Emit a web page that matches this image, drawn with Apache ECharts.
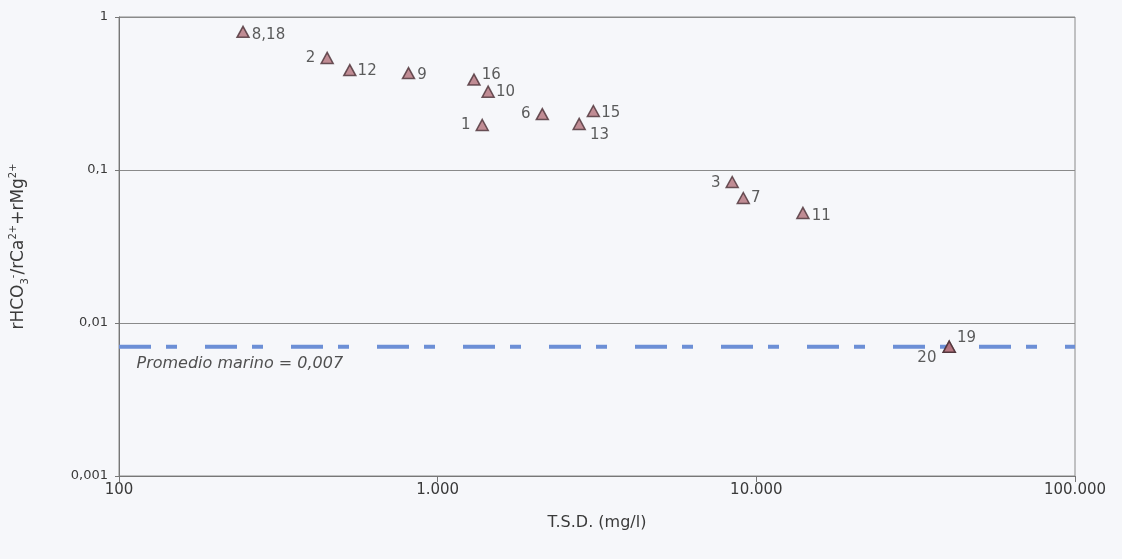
<!DOCTYPE html>
<html>
<head>
<meta charset="utf-8">
<script src="https://cdn.jsdelivr.net/npm/echarts@6/dist/echarts.min.js"></script>
<style>
  html, body { margin: 0; padding: 0; background: #f6f7fa; }
  #chart { width: 1122px; height: 559px; }
</style>
</head>
<body>
<div id="chart"></div>
<script>
// Sample identifiers (points sharing a position are labelled together)
const sampleLabels = ['8,18', '2', '12', '9', '16', '10', '1', '6', '15', '13', '3', '7', '11', '19', '20'];
// Total dissolved solids, mg/l
const tsdValues = [245, 450, 530, 810, 1300, 1440, 1380, 2130, 3080, 2780, 8400, 9100, 14000, 40300, 40300];
// rHCO3- / (rCa2+ + rMg2+)
const ratioValues = [0.80, 0.54, 0.45, 0.43, 0.39, 0.325, 0.197, 0.232, 0.243, 0.200, 0.0835, 0.0656, 0.0524, 0.007, 0.007];
// Mean seawater ratio
const seawaterRatio = 0.007;
const xTicks = [100, 1000, 10000, 100000];
const yTicks = [0.001, 0.01, 0.1, 1];

// Where each sample label sits relative to its marker
const labelPlacement = {
  '8,18': { position: 'right', offset: [-3, 3] },
  '2':    { position: 'left',  offset: [0, 0] },
  '12':   { position: 'right', offset: [-4, 1] },
  '9':    { position: 'right', offset: [-3, 2] },
  '16':   { position: 'right', offset: [-4, -4] },
  '10':   { position: 'right', offset: [-4, 0] },
  '1':    { position: 'left',  offset: [0, 0] },
  '6':    { position: 'left',  offset: [0, 0] },
  '15':   { position: 'right', offset: [-4, 2] },
  '13':   { position: 'right', offset: [-1, 11] },
  '3':    { position: 'left',  offset: [0, 1] },
  '7':    { position: 'right', offset: [-4, 0] },
  '11':   { position: 'right', offset: [-3, 3] },
  '19':   { position: 'right', offset: [-4, -9] },
  '20':   { position: 'left',  offset: [-1, 11] }
};

const points = tsdValues.map((x, i) => {
  const p = labelPlacement[sampleLabels[i]];
  return {
    value: [x, ratioValues[i]],
    name: sampleLabels[i],
    label: { position: p.position, offset: p.offset }
  };
});

// Horizontal reference line across the whole TSD range
const seawaterLine = [
  { value: [xTicks[0], seawaterRatio], label: { show: true } },
  { value: [xTicks[xTicks.length - 1], seawaterRatio], label: { show: false } }
];

const fmtThousands = v => String(Math.round(v)).replace(/\B(?=(\d{3})+(?!\d))/g, '.');
const fmtDecimal = v => String(Number(Number(v).toPrecision(3))).replace('.', ',');

const wideFont = 'DejaVu Sans, Liberation Sans, sans-serif';
const chart = echarts.init(document.getElementById('chart'), null, { renderer: 'canvas' });
chart.setOption({
  backgroundColor: '#f6f7fa',
  animation: false,
  textStyle: { fontFamily: wideFont },
  grid: {
    left: 119, right: 47, top: 17, bottom: 83,
    show: true, borderColor: '#8a8a8a', borderWidth: 1, backgroundColor: 'transparent'
  },
  xAxis: {
    type: 'log', logBase: 10, min: xTicks[0], max: xTicks[xTicks.length - 1],
    name: 'T.S.D. (mg/l)', nameLocation: 'middle', nameGap: 39,
    nameTextStyle: { fontSize: 16, color: '#3a3a3a', fontFamily: wideFont },
    axisLine: { lineStyle: { color: '#777', width: 1 } },
    axisTick: { show: true, length: 6, lineStyle: { color: '#777' } },
    axisLabel: { fontSize: 15, color: '#3a3a3a', margin: 7, fontFamily: wideFont, formatter: fmtThousands },
    splitLine: { show: false },
    minorTick: { show: false }
  },
  yAxis: {
    type: 'log', logBase: 10, min: yTicks[0], max: yTicks[yTicks.length - 1],
    name: '{b|rHCO}{sub|3}{sup|-}{b|/rCa}{sup|2+}{b|+rMg}{sup|2+}',
    nameLocation: 'middle', nameGap: 89, nameRotate: 90,
    nameTextStyle: {
      color: '#3a3a3a',
      rich: {
        b: { fontSize: 17, color: '#3a3a3a', lineHeight: 22, fontFamily: wideFont, verticalAlign: 'middle' },
        sup: { fontSize: 10, color: '#3a3a3a', lineHeight: 22, fontFamily: wideFont, verticalAlign: 'top' },
        sub: { fontSize: 10, color: '#3a3a3a', lineHeight: 22, fontFamily: wideFont, verticalAlign: 'bottom' }
      }
    },
    axisLine: { show: true, lineStyle: { color: '#777', width: 1 } },
    axisTick: { show: true, length: 4, lineStyle: { color: '#777' } },
    axisLabel: { fontSize: 13, color: '#3a3a3a', margin: 11, fontFamily: wideFont, formatter: fmtDecimal },
    splitLine: { show: true, lineStyle: { color: '#8a8a8a', width: 1 } },
    minorTick: { show: false }
  },
  series: [{
    type: 'line',
    data: seawaterLine,
    symbol: 'circle',
    symbolSize: 1,
    itemStyle: { color: 'rgba(0,0,0,0)' },
    lineStyle: { color: '#6c8fd6', width: 4, type: [32, 15, 11, 28] },
    label: {
      show: false, position: 'right', offset: [12, 17],
      fontSize: 16, fontStyle: 'italic', color: '#505050', fontFamily: wideFont,
      formatter: () => 'Promedio marino = ' + fmtDecimal(seawaterRatio)
    },
    silent: true,
    z: 2
  }, {
    type: 'scatter',
    symbol: 'triangle',
    symbolSize: [12, 11],
    itemStyle: { color: '#b3707b', borderColor: '#4a3036', borderWidth: 1.5 },
    label: {
      show: true, distance: 5, fontSize: 15, color: '#333', fontFamily: wideFont,
      formatter: p => p.name
    },
    data: points,
    z: 3
  }]
});
</script>
</body>
</html>
